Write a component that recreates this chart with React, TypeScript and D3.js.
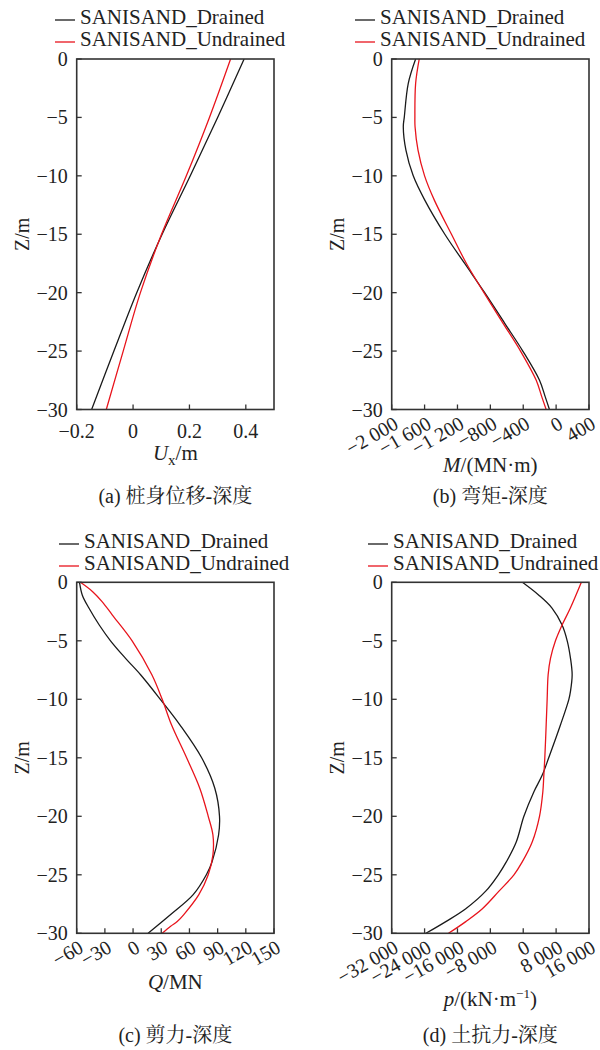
import React from "react";
import * as d3 from "d3";

// ---------- DATA ----------
const seriesNames = ["SANISAND_Drained", "SANISAND_Undrained"];
const seriesColors = ["#1a1a1a", "#e8141c"];

// (a) pile displacement
const depthA = [0, -5, -10, -15, -20, -25, -30];
const uxDrained = [0.394, 0.3, 0.203, 0.103, 0.013, -0.068, -0.147];
const uxUndrained = [0.346, 0.271, 0.189, 0.101, 0.026, -0.035, -0.095];

// (b) bending moment
const depthB = [0, -2.1, -5, -5.8, -7.8, -10, -12.1, -15, -17.5, -20, -22.6, -25, -27.5, -28.9, -30];
const mDrained = [-1709, -1799, -1847, -1859, -1827, -1738, -1596, -1354, -1112, -869, -627, -405, -202, -133, -81];
const mUndrained = [-1665, -1709, -1718, -1716, -1680, -1600, -1480, -1273, -1091, -878, -647, -433, -242, -175, -121];

// (c) shear force
const depthCDrained = [0, -1.1, -2.2, -3.65, -5, -6.5, -7.9, -10, -12.2, -15, -17.6, -20, -21.6, -23.9, -25, -26.7, -28.4, -30];
const qDrained = [-57, -54, -47, -36, -24, -8, 8, 29, 50, 73, 87, 92, 91, 84, 78, 64, 40, 16];
const depthCUndrained = [0, -0.8, -1.65, -2.8, -5, -7.9, -10, -12.2, -15, -17.6, -20, -21.6, -23.3, -25, -26.7, -28.4, -29, -29.4, -30];
const qUndrained = [-56, -43, -33, -22, -1, 20, 31, 41, 57, 71, 80, 85, 85, 80, 70, 54, 47, 40, 31];

// (d) soil resistance
const depthDDrained = [0, -1.1, -2.2, -3.65, -5, -6.5, -7.9, -9.3, -10, -12.2, -15, -16.5, -17.9, -20, -22.2, -23.9, -25, -26.4, -27.9, -29, -30];
const pDrained = [-200, 3800, 7000, 9450, 10700, 11500, 11900, 11500, 11100, 9050, 6200, 4600, 2600, 160, -1700, -4120, -6060, -9130, -13980, -18830, -23680];
const depthDUndrained = [0, -2.2, -3.65, -5, -6.5, -7.9, -10, -12.2, -15, -16.5, -17.9, -20, -22.2, -23.9, -25, -26.4, -27.9, -29, -30];
const pUndrained = [14140, 11470, 9450, 7840, 6630, 6060, 5820, 5580, 5250, 5010, 4770, 3960, 2180, -240, -2260, -5900, -9940, -13980, -18180];

const depthTicks = [0, -5, -10, -15, -20, -25, -30];
const ticksA = [-0.2, 0, 0.2, 0.4];
const ticksB = [-2000, -1600, -1200, -800, -400, 0, 400];
const ticksC = [-60, -30, 0, 30, 60, 90, 120, 150];
const ticksD = [-32000, -24000, -16000, -8000, 0, 8000, 16000];

const captions = ["(a) 桩身位移-深度", "(b) 弯矩-深度", "(c) 剪力-深度", "(d) 土抗力-深度"];

// ---------- STYLE ----------
const SERIF = "'Liberation Serif', 'Times New Roman', serif";
const CJK = "'Liberation Serif', 'Noto Serif CJK SC', 'Noto Sans CJK SC', serif";
const TXT = "#222";
const AXC = "#333";

const minus = (s: string) => s.replace(/-/g, "\u2212");
const fmtDec = (v: number) => (v === 0 ? "0" : minus(d3.format(".1f")(v)));
const fmtInt = (v: number) => minus(d3.format(",")(v).replace(/,/g, "\u2009"));
const fmtThou = (v: number) => minus(d3.format(",")(v).replace(/,/g, " "));

type Series = { z: number[]; v: number[] };

function Panel(props: {
  x0: number; x1: number; y0: number; y1: number;
  domain: [number, number]; ticks: number[]; fmt: (v: number) => string;
  rotate: boolean; series: Series[]; legendY: number; legendX: number;
  xTitle: React.ReactNode; xTitleY: number; caption: string; captionY: number;
}) {
  const { x0, x1, y0, y1, domain, ticks, fmt, rotate, series } = props;
  const x = d3.scaleLinear().domain(domain).range([x0, x1]);
  const y = d3.scaleLinear().domain([0, -30]).range([y0, y1]);
  const line = d3
    .line<[number, number]>()
    .x((d) => x(d[0]))
    .y((d) => y(d[1]))
    .curve(d3.curveCatmullRom.alpha(0.5));
  const cx = (x0 + x1) / 2;
  const cy = (y0 + y1) / 2;
  const serif = { fontFamily: SERIF };
  const cid = "clip" + Math.round(x0) + "_" + Math.round(y0);
  return (
    <g>
      {series.map((_, i) => (
        <g key={"lg" + i}>
          <line x1={props.legendX} x2={props.legendX + 20} y1={props.legendY + i * 22 - 4} y2={props.legendY + i * 22 - 4}
            stroke={seriesColors[i]} strokeWidth={1.3} />
          <text x={props.legendX + 25} y={props.legendY + i * 22} style={serif} fontSize={21} fill={TXT}>
            {seriesNames[i]}
          </text>
        </g>
      ))}
      <defs>
        <clipPath id={cid}>
          <rect x={x0} y={y0} width={x1 - x0} height={y1 - y0} />
        </clipPath>
      </defs>
      <g clipPath={`url(#${cid})`}>
        {series.map((s, i) => (
          <path key={"s" + i}
            d={line(s.z.map((z, k) => [s.v[k], z] as [number, number])) || ""}
            fill="none" stroke={seriesColors[i]} strokeWidth={1.3} />
        ))}
      </g>
      <rect x={x0} y={y0} width={x1 - x0} height={y1 - y0} fill="none" stroke={AXC} strokeWidth={1.6} />
      {depthTicks.map((t) => (
        <g key={"yt" + t}>
          <line x1={x0} x2={x0 + 5} y1={y(t)} y2={y(t)} stroke={AXC} strokeWidth={1.3} />
          <text x={x0 - 9} y={y(t) + 7} textAnchor="end" style={serif} fontSize={20} fill={TXT}>
            {t === 0 ? "0" : minus(String(t))}
          </text>
        </g>
      ))}
      {ticks.map((t) => (
        <g key={"xt" + t}>
          <line x1={x(t)} x2={x(t)} y1={y1} y2={y1 - 5} stroke={AXC} strokeWidth={1.3} />
          {rotate ? (
            <text transform={`translate(${x(t) + 8},${y1 + 18}) rotate(-30)`} textAnchor="end"
              style={serif} fontSize={20} fill={TXT}>{fmt(t)}</text>
          ) : (
            <text x={x(t)} y={y1 + 28} textAnchor="middle" style={serif} fontSize={20} fill={TXT}>{fmt(t)}</text>
          )}
        </g>
      ))}
      <text transform={`translate(${x0 - 48},${cy}) rotate(-90)`} textAnchor="middle"
        style={serif} fontSize={20} fill={TXT}>Z/m</text>
      <text x={cx} y={props.xTitleY} textAnchor="middle" style={serif} fontSize={21} fill={TXT}>
        {props.xTitle}
      </text>
      <text x={cx} y={props.captionY} textAnchor="middle" style={{ fontFamily: CJK }} fontSize={20} fill={TXT}>
        {props.caption}
      </text>
    </g>
  );
}

export default function App() {
  return (
    <svg width={600} height={1050} viewBox="0 0 600 1050"
      style={{ position: "absolute", left: 0, top: 0, background: "#fff" }}>
      <rect width={600} height={1050} fill="#fff" />
      <Panel x0={76.7} x1={274} y0={59} y1={409.5} domain={[-0.2, 0.5]} ticks={ticksA} fmt={fmtDec}
        rotate={false}
        series={[{ z: depthA, v: uxDrained }, { z: depthA, v: uxUndrained }]}
        legendX={55} legendY={24}
        xTitle={<><tspan fontStyle="italic">U</tspan><tspan fontSize={15} dy={5}>x</tspan><tspan dy={-5}>/m</tspan></>}
        xTitleY={460} caption={captions[0]} captionY={503} />
      <Panel x0={391.7} x1={589} y0={59} y1={409.5} domain={[-2000, 400]} ticks={ticksB} fmt={fmtThou}
        rotate={true}
        series={[{ z: depthB, v: mDrained }, { z: depthB, v: mUndrained }]}
        legendX={355} legendY={24}
        xTitle={<><tspan fontStyle="italic">M</tspan><tspan>/(MN·m)</tspan></>}
        xTitleY={472} caption={captions[1]} captionY={503} />
      <Panel x0={76.7} x1={274} y0={582.3} y1={933.3} domain={[-60, 150]} ticks={ticksC} fmt={fmtInt}
        rotate={true}
        series={[{ z: depthCDrained, v: qDrained }, { z: depthCUndrained, v: qUndrained }]}
        legendX={59} legendY={548}
        xTitle={<><tspan fontStyle="italic">Q</tspan><tspan>/MN</tspan></>}
        xTitleY={989} caption={captions[2]} captionY={1042} />
      <Panel x0={391.7} x1={589} y0={582.3} y1={933.3} domain={[-32000, 16000]} ticks={ticksD} fmt={fmtThou}
        rotate={true}
        series={[{ z: depthDDrained, v: pDrained }, { z: depthDUndrained, v: pUndrained }]}
        legendX={368} legendY={548}
        xTitle={<><tspan fontStyle="italic">p</tspan><tspan>/(kN·m</tspan><tspan fontSize={13} dy={-8}>−1</tspan><tspan dy={8}>)</tspan></>}
        xTitleY={1006} caption={captions[3]} captionY={1042} />
    </svg>
  );
}
